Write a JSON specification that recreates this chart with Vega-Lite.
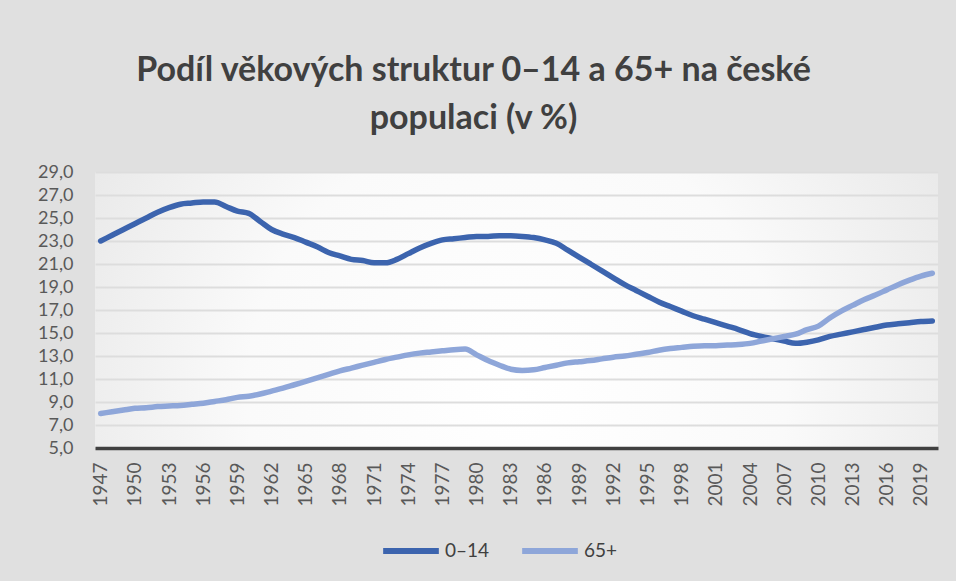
{
  "$schema": "https://vega.github.io/schema/vega-lite/v6.json",
  "width": 956,
  "height": 581,
  "autosize": {"type": "fit", "contains": "padding"},
  "padding": {"left": 37, "right": 14, "top": 54, "bottom": 74},
  "background": "#e0e0e0",
  "config": {
    "font": "Lato",
    "view": {
      "stroke": null,
      "fill": {
        "gradient": "radial",
        "x1": 0.5, "y1": 0.6, "x2": 0.5, "y2": 0.6, "r1": 0, "r2": 0.8,
        "stops": [
          {"offset": 0, "color": "#ffffff"},
          {"offset": 0.4, "color": "#fafafa"},
          {"offset": 1, "color": "#dadada"}
        ]
      }
    }
  },
  "title": {
    "text": ["Podíl věkových struktur 0–14 a 65+ na české", "populaci (v %)"],
    "font": "Lato",
    "fontSize": 34,
    "fontWeight": "bold",
    "color": "#404040",
    "lineHeight": 48,
    "anchor": "middle",
    "dx": -43,
    "offset": 27
  },
  "data": {
    "values": [
      {"year": 1947, "0–14": 23.0, "65+": 8.0},
      {"year": 1948, "0–14": 23.5, "65+": 8.15},
      {"year": 1949, "0–14": 24.0, "65+": 8.3},
      {"year": 1950, "0–14": 24.5, "65+": 8.45},
      {"year": 1951, "0–14": 25.0, "65+": 8.5},
      {"year": 1952, "0–14": 25.5, "65+": 8.6},
      {"year": 1953, "0–14": 25.9, "65+": 8.65},
      {"year": 1954, "0–14": 26.2, "65+": 8.7},
      {"year": 1955, "0–14": 26.3, "65+": 8.8},
      {"year": 1956, "0–14": 26.4, "65+": 8.9},
      {"year": 1957, "0–14": 26.4, "65+": 9.05},
      {"year": 1958, "0–14": 26.0, "65+": 9.2},
      {"year": 1959, "0–14": 25.6, "65+": 9.4},
      {"year": 1960, "0–14": 25.4, "65+": 9.5},
      {"year": 1961, "0–14": 24.7, "65+": 9.7},
      {"year": 1962, "0–14": 24.0, "65+": 9.95},
      {"year": 1963, "0–14": 23.6, "65+": 10.2},
      {"year": 1964, "0–14": 23.3, "65+": 10.5},
      {"year": 1965, "0–14": 22.9, "65+": 10.8},
      {"year": 1966, "0–14": 22.5, "65+": 11.1},
      {"year": 1967, "0–14": 22.0, "65+": 11.4},
      {"year": 1968, "0–14": 21.7, "65+": 11.7},
      {"year": 1969, "0–14": 21.4, "65+": 11.95},
      {"year": 1970, "0–14": 21.3, "65+": 12.2},
      {"year": 1971, "0–14": 21.1, "65+": 12.45},
      {"year": 1972, "0–14": 21.1, "65+": 12.7},
      {"year": 1973, "0–14": 21.4, "65+": 12.9},
      {"year": 1974, "0–14": 21.9, "65+": 13.1},
      {"year": 1975, "0–14": 22.4, "65+": 13.25},
      {"year": 1976, "0–14": 22.8, "65+": 13.35},
      {"year": 1977, "0–14": 23.1, "65+": 13.45},
      {"year": 1978, "0–14": 23.2, "65+": 13.55},
      {"year": 1979, "0–14": 23.3, "65+": 13.6},
      {"year": 1980, "0–14": 23.4, "65+": 13.1},
      {"year": 1981, "0–14": 23.4, "65+": 12.6},
      {"year": 1982, "0–14": 23.45, "65+": 12.2},
      {"year": 1983, "0–14": 23.45, "65+": 11.85},
      {"year": 1984, "0–14": 23.4, "65+": 11.75},
      {"year": 1985, "0–14": 23.3, "65+": 11.8},
      {"year": 1986, "0–14": 23.1, "65+": 12.0},
      {"year": 1987, "0–14": 22.8, "65+": 12.2},
      {"year": 1988, "0–14": 22.2, "65+": 12.4},
      {"year": 1989, "0–14": 21.6, "65+": 12.5},
      {"year": 1990, "0–14": 21.0, "65+": 12.6},
      {"year": 1991, "0–14": 20.4, "65+": 12.75},
      {"year": 1992, "0–14": 19.8, "65+": 12.9},
      {"year": 1993, "0–14": 19.2, "65+": 13.0},
      {"year": 1994, "0–14": 18.7, "65+": 13.15},
      {"year": 1995, "0–14": 18.2, "65+": 13.3},
      {"year": 1996, "0–14": 17.7, "65+": 13.5},
      {"year": 1997, "0–14": 17.3, "65+": 13.65},
      {"year": 1998, "0–14": 16.9, "65+": 13.75},
      {"year": 1999, "0–14": 16.5, "65+": 13.85},
      {"year": 2000, "0–14": 16.2, "65+": 13.9},
      {"year": 2001, "0–14": 15.9, "65+": 13.9},
      {"year": 2002, "0–14": 15.6, "65+": 13.95},
      {"year": 2003, "0–14": 15.3, "65+": 14.0},
      {"year": 2004, "0–14": 14.95, "65+": 14.1},
      {"year": 2005, "0–14": 14.7, "65+": 14.3},
      {"year": 2006, "0–14": 14.5, "65+": 14.5},
      {"year": 2007, "0–14": 14.3, "65+": 14.7},
      {"year": 2008, "0–14": 14.1, "65+": 14.9},
      {"year": 2009, "0–14": 14.2, "65+": 15.3},
      {"year": 2010, "0–14": 14.4, "65+": 15.6},
      {"year": 2011, "0–14": 14.7, "65+": 16.3},
      {"year": 2012, "0–14": 14.9, "65+": 16.9},
      {"year": 2013, "0–14": 15.1, "65+": 17.4},
      {"year": 2014, "0–14": 15.3, "65+": 17.9},
      {"year": 2015, "0–14": 15.5, "65+": 18.3},
      {"year": 2016, "0–14": 15.7, "65+": 18.75},
      {"year": 2017, "0–14": 15.8, "65+": 19.2},
      {"year": 2018, "0–14": 15.9, "65+": 19.6},
      {"year": 2019, "0–14": 16.0, "65+": 19.95},
      {"year": 2020, "0–14": 16.05, "65+": 20.2}
    ]
  },
  "transform": [
    {"fold": ["0–14", "65+"], "as": ["group", "value"]}
  ],
  "mark": {
    "type": "line",
    "strokeWidth": 5.5,
    "strokeCap": "round",
    "strokeJoin": "round",
    "interpolate": "monotone"
  },
  "encoding": {
    "x": {
      "field": "year",
      "type": "ordinal",
      "scale": {"padding": 0.5},
      "axis": {
        "title": null,
        "labelAngle": -90,
        "labelExpr": "(toNumber(datum.value) - 1947) % 3 == 0 ? datum.label : ''",
        "labelFontSize": 19,
        "labelColor": "#595959",
        "labelPadding": 14,
        "ticks": false,
        "domainColor": "#404040",
        "domainWidth": 3.5,
        "grid": false
      }
    },
    "y": {
      "field": "value",
      "type": "quantitative",
      "scale": {"domain": [5, 29], "nice": false, "zero": false},
      "axis": {
        "title": null,
        "values": [5, 7, 9, 11, 13, 15, 17, 19, 21, 23, 25, 27, 29],
        "labelExpr": "replace(format(datum.value, '.1f'), '.', ',')",
        "labelFontSize": 18,
        "labelColor": "#595959",
        "labelPadding": 22,
        "ticks": false,
        "domain": false,
        "grid": true,
        "gridWidth": 2,
        "encode": {
          "grid": {
            "update": {
              "stroke": {"signal": "'rgb(' + round(165 + (datum.value - 7) * 3.1) + ',' + round(165 + (datum.value - 7) * 3.1) + ',' + round(165 + (datum.value - 7) * 3.1) + ')'"}
            }
          }
        }
      }
    },
    "color": {
      "field": "group",
      "type": "nominal",
      "scale": {"domain": ["0–14", "65+"], "range": ["#3C64AE", "#8EA6D9"]},
      "legend": {
        "title": null,
        "orient": "none",
        "legendX": 285,
        "legendY": 348,
        "direction": "horizontal",
        "symbolType": "stroke",
        "symbolSize": 3100,
        "symbolStrokeWidth": 6,
        "labelFontSize": 19,
        "labelColor": "#404040",
        "labelOffset": 3,
        "columnPadding": 20
      }
    }
  }
}
